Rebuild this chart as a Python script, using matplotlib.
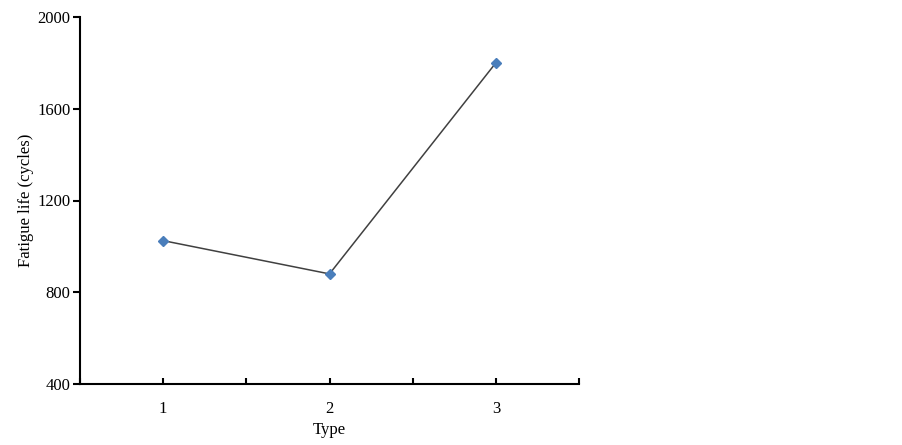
import numpy as np
import matplotlib.pyplot as plt

plt.rcParams['font.family'] = ['Liberation Serif', 'DejaVu Serif']

types = [1, 2, 3]
fatigue_life = [1025, 880, 1800]
y_ticks = [400, 800, 1200, 1600, 2000]

fig = plt.figure(figsize=(9.03, 4.45), dpi=100)
ax = fig.add_axes([80 / 903, 1 - 384 / 445, 499 / 903, 367 / 445])

ax.plot(types, fatigue_life, '-', color='#404040', linewidth=1.1, zorder=2)
ax.plot(types, fatigue_life, 'D', color='#4a7ebb', markersize=5, zorder=3)

ax.set_xlim(0.5, 3.5)
ax.set_ylim(400, 2000)
ax.set_yticks(y_ticks)
ax.set_xticks(np.arange(0.5, 3.6, 0.5))
ax.set_xticklabels(['' if t % 1 else str(int(t)) for t in np.arange(0.5, 3.6, 0.5)])

for side in ['top', 'right']:
    ax.spines[side].set_visible(False)
for side in ['left', 'bottom']:
    ax.spines[side].set_linewidth(1.5)

ax.tick_params(axis='x', direction='in', length=4, width=1.5, labelsize=12, pad=12)
ax.tick_params(axis='y', direction='out', length=5, width=1.5, labelsize=12, pad=2)

ax.set_xlabel('Type', fontsize=12, labelpad=4)
ax.set_ylabel('Fatigue life (cycles)', fontsize=12, labelpad=2)

fig.savefig('out.png', dpi=100)
